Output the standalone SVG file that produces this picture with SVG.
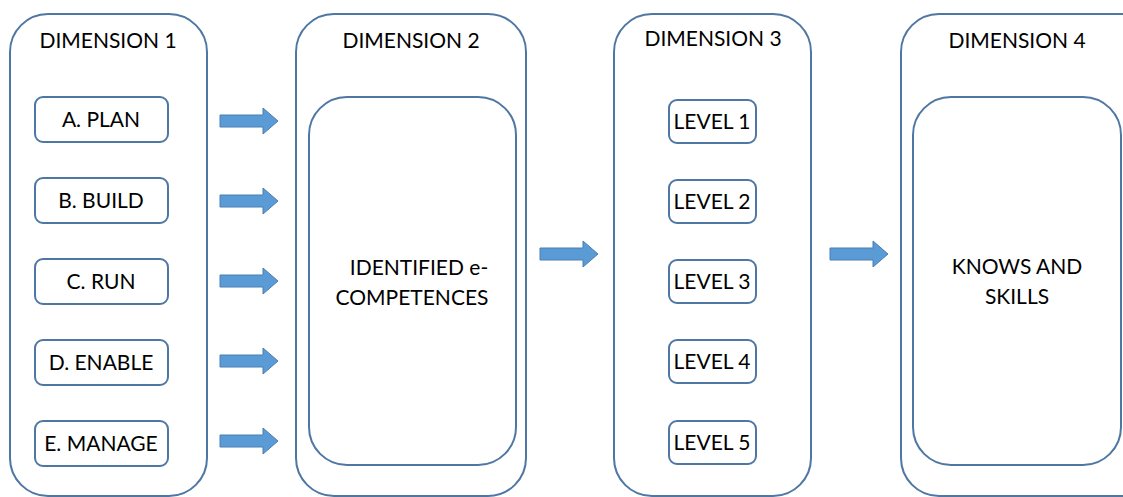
<svg xmlns="http://www.w3.org/2000/svg" width="1123" height="497" viewBox="0 0 1123 497">
  <style>
    .frame { fill: #ffffff; stroke: #4f77a3; stroke-width: 2; }
    .item { fill: #ffffff; stroke: #4f77a3; stroke-width: 2; }
    .arrow { fill: #5b9bd5; stroke: #4a7eb3; stroke-width: 1; }
    text { font-family: "Lato", "Open Sans", "Liberation Sans", sans-serif; font-size: 21px; fill: #000000; text-anchor: middle; }
  </style>
  <defs>
    <path id="arr" d="M0,-6 L43,-6 L43,-13 L58,0 L43,13 L43,6 L0,6 Z"/>
  </defs>

  <g id="dimension1">
    <rect class="frame" x="10" y="14" width="197" height="482" rx="38"/>
    <text x="108" y="48">DIMENSION 1</text>
  </g>
  <g id="plan">
    <rect class="item" x="35" y="97" width="133" height="45" rx="8"/>
    <text x="101" y="127">A. PLAN</text>
  </g>
  <g id="build">
    <rect class="item" x="35" y="178" width="133" height="45" rx="8"/>
    <text x="101" y="208">B. BUILD</text>
  </g>
  <g id="run">
    <rect class="item" x="35" y="259" width="133" height="45" rx="8"/>
    <text x="101" y="289">C. RUN</text>
  </g>
  <g id="enable">
    <rect class="item" x="35" y="340" width="133" height="45" rx="8"/>
    <text x="101" y="370">D. ENABLE</text>
  </g>
  <g id="manage">
    <rect class="item" x="35" y="421" width="133" height="45" rx="8"/>
    <text x="101" y="451">E. MANAGE</text>
  </g>

  <g id="dimension2">
    <rect class="frame" x="296" y="14" width="230" height="482" rx="38"/>
    <text x="411" y="48">DIMENSION 2</text>
  </g>
  <g id="competences">
    <rect class="item" x="309" y="97" width="207" height="368" rx="38"/>
    <text x="419" y="275">IDENTIFIED e-</text>
    <text x="412" y="305">COMPETENCES</text>
  </g>

  <g id="dimension3">
    <rect class="frame" x="614" y="14" width="197" height="482" rx="38"/>
    <text x="713" y="46">DIMENSION 3</text>
  </g>
  <g id="level1">
    <rect class="item" x="669" y="100" width="87" height="43" rx="8"/>
    <text x="712" y="129">LEVEL 1</text>
  </g>
  <g id="level2">
    <rect class="item" x="669" y="180" width="87" height="43" rx="8"/>
    <text x="712" y="209">LEVEL 2</text>
  </g>
  <g id="level3">
    <rect class="item" x="669" y="260" width="87" height="43" rx="8"/>
    <text x="712" y="289">LEVEL 3</text>
  </g>
  <g id="level4">
    <rect class="item" x="669" y="340" width="87" height="43" rx="8"/>
    <text x="712" y="369">LEVEL 4</text>
  </g>
  <g id="level5">
    <rect class="item" x="669" y="421" width="87" height="43" rx="8"/>
    <text x="712" y="450">LEVEL 5</text>
  </g>

  <g id="dimension4">
    <rect class="frame" x="901" y="14" width="260" height="482" rx="38"/>
    <text x="1017" y="48">DIMENSION 4</text>
  </g>
  <g id="knowledge">
    <rect class="item" x="913" y="97" width="208" height="368" rx="38"/>
    <text x="1017" y="274">KNOWS AND</text>
    <text x="1017" y="304">SKILLS</text>
  </g>

  <g id="connectors">
    <use href="#arr" class="arrow" x="220" y="121"/>
    <use href="#arr" class="arrow" x="220" y="201"/>
    <use href="#arr" class="arrow" x="220" y="281"/>
    <use href="#arr" class="arrow" x="220" y="361"/>
    <use href="#arr" class="arrow" x="220" y="441"/>
    <use href="#arr" class="arrow" x="540" y="254"/>
    <use href="#arr" class="arrow" x="830" y="254"/>
  </g>
</svg>
